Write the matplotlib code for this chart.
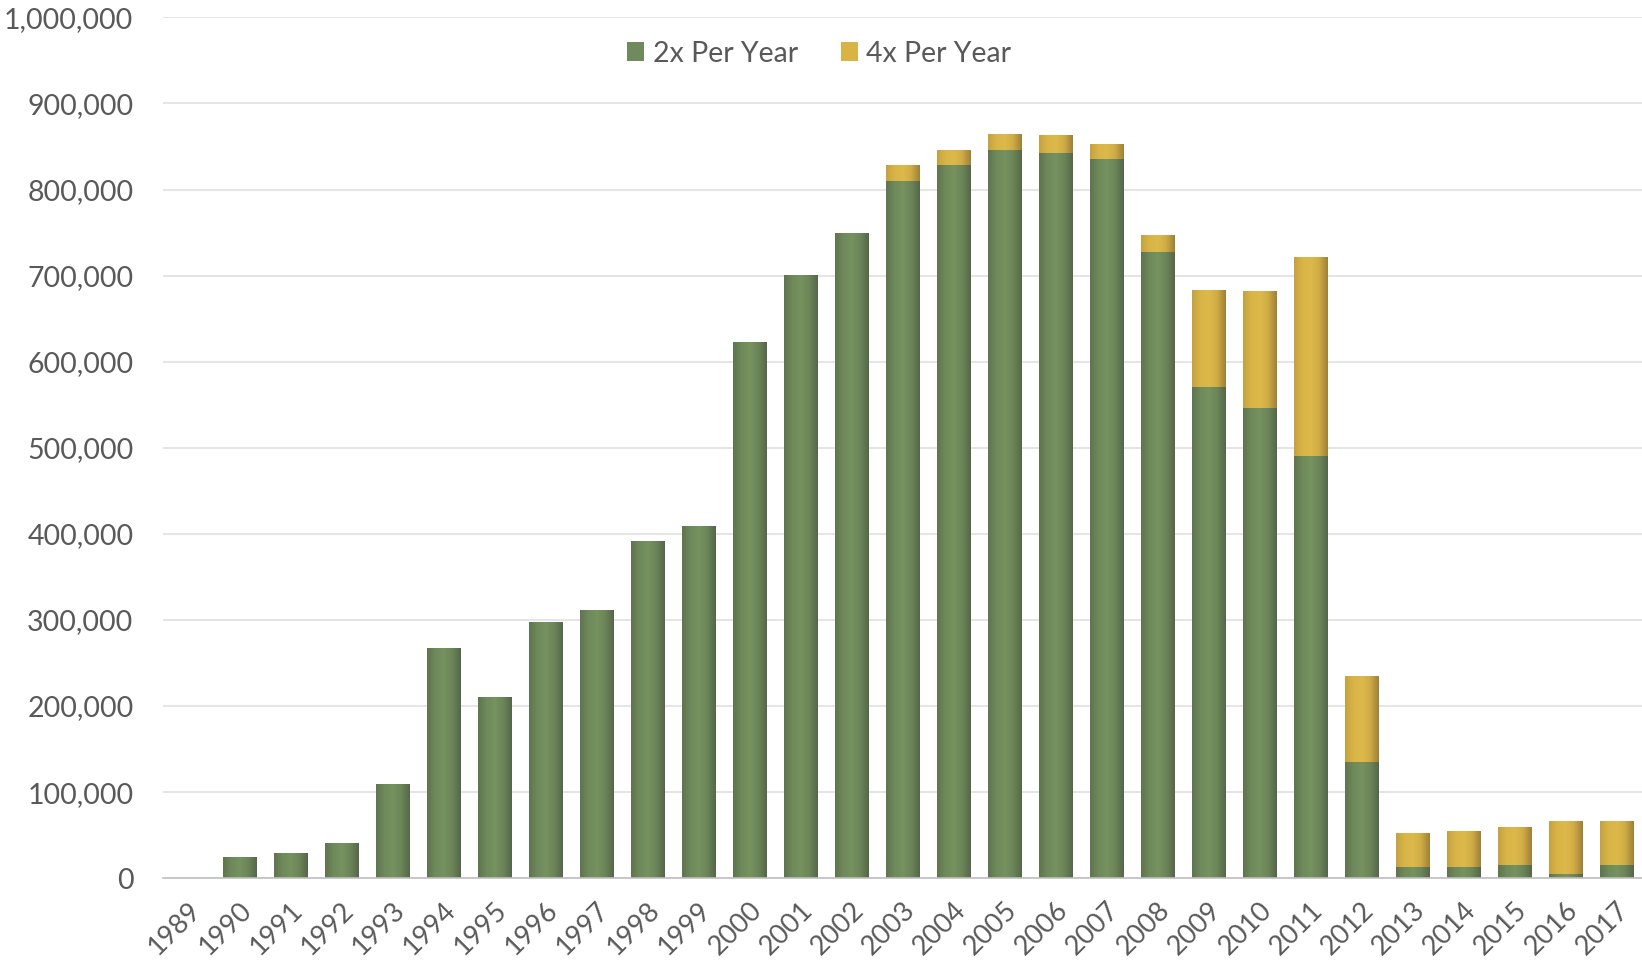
import numpy as np
import matplotlib.pyplot as plt
from matplotlib.colors import LinearSegmentedColormap
from matplotlib.ticker import FuncFormatter

years = [str(y) for y in range(1989, 2018)]
twice_per_year = [0, 25000, 29000, 41000, 110000, 267000, 211000, 298000, 312000,
                  392000, 409000, 623000, 701000, 750000, 810000, 829000, 846000,
                  843000, 836000, 728000, 571000, 546000, 491000, 135000, 13000,
                  13000, 15000, 5000, 15000]
four_per_year = [0, 0, 0, 0, 0, 0, 0, 0, 0, 0, 0, 0, 0, 0, 19000, 17000, 19000,
                 20000, 17000, 19000, 112000, 136000, 231000, 100000, 39000,
                 42000, 45000, 61000, 51000]

plt.rcParams['font.family'] = ['Lato', 'DejaVu Sans']
fs = 20.5

fig = plt.figure(figsize=(16.42, 9.64), dpi=100)
ax = fig.add_axes([0.099, 0.089, 0.901, 0.893])

x = np.arange(len(years))
width = 0.65
green = '#6f8a5c'
yellow = '#d8b444'
green_cmap = LinearSegmentedColormap.from_list(
    'g', ['#5f744f', '#6f8a5b', '#76925f', '#6c8558', '#55674a'])
yellow_cmap = LinearSegmentedColormap.from_list(
    'y', ['#c4a23f', '#d9b548', '#ddb94b', '#cfab45', '#9e8139'])

twice = np.array(twice_per_year, dtype=float)
four = np.array(four_per_year, dtype=float)
b1 = ax.bar(x, np.where(twice > 0, twice, np.nan), width, color=green,
            linewidth=0, label='2x Per Year', zorder=3)
b2 = ax.bar(x, np.where(four > 0, four, np.nan), width, bottom=twice,
            color=yellow, linewidth=0, label='4x Per Year', zorder=3)

# horizontal shading inside each bar, like the bevelled Excel bars
grad = np.linspace(0, 1, 64).reshape(1, -1)
for bars, cmap in [(b1, green_cmap), (b2, yellow_cmap)]:
    for p in bars.patches:
        h = p.get_height()
        if not np.isfinite(h) or h <= 0:
            continue
        x0, y0 = p.get_x(), p.get_y()
        im = ax.imshow(grad, cmap=cmap, aspect='auto', zorder=3.5,
                       extent=(x0, x0 + p.get_width(), y0, y0 + h))
        im.set_clip_path(p)

ax.set_xlim(-0.5, len(years) - 0.5)
ax.set_ylim(0, 1000000)
ax.set_yticks(np.arange(0, 1000001, 100000))
ax.yaxis.set_major_formatter(FuncFormatter(lambda v, p: f'{int(v):,}'))
ax.grid(axis='y', color='#e0e0e0', linewidth=1.2, zorder=0)

ax.set_xticks(x)
ax.set_xticklabels(years, rotation=45, ha='right', rotation_mode='anchor')
ax.tick_params(axis='both', length=0, labelsize=fs, colors='#595959')
ax.tick_params(axis='x', pad=14, labelsize=19.5)
ax.tick_params(axis='y', pad=21)

for s in ['top', 'right', 'left']:
    ax.spines[s].set_visible(False)
ax.spines['bottom'].set_color('#bfbfbf')
ax.spines['bottom'].set_linewidth(1.2)
ax.spines['bottom'].set_zorder(4)

ax.legend(loc='center', bbox_to_anchor=(0.444, 0.958), ncol=2, frameon=False,
          fontsize=fs, labelcolor='#595959', handlelength=0.6, handleheight=0.6,
          handletextpad=0.3, columnspacing=1.5)

fig.savefig('out.png', dpi=100)
